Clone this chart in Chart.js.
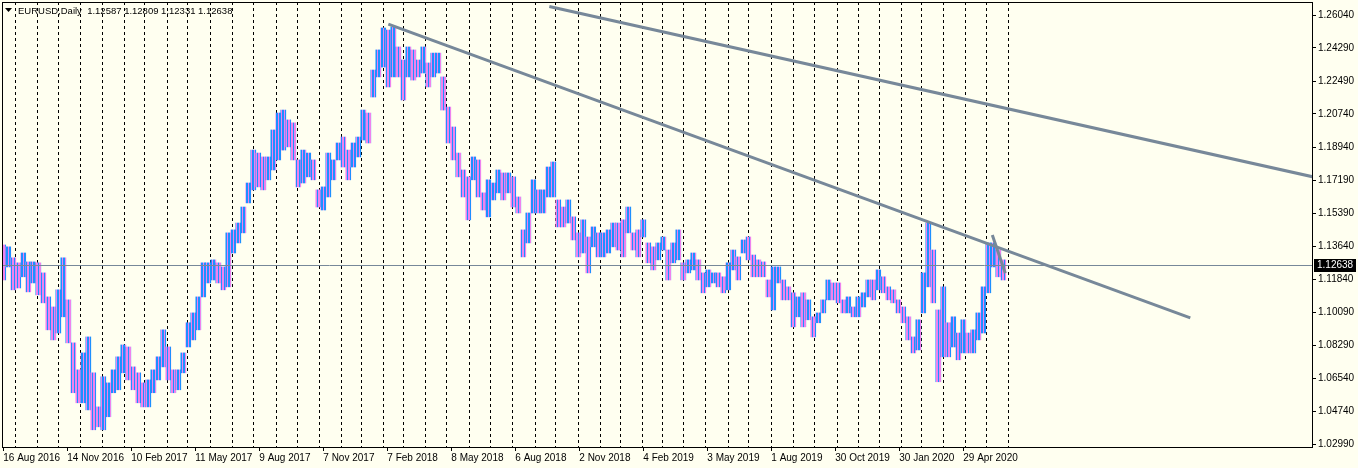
<!DOCTYPE html>
<html>
<head>
<meta charset="utf-8">
<script src="https://cdn.jsdelivr.net/npm/chart.js@4.4.1/dist/chart.umd.min.js"></script>
<style>
  html, body { margin: 0; padding: 0; background: #FFFFF0; }
  canvas { display: block; }
</style>
</head>
<body>
<canvas id="priceChart" width="1358" height="468"></canvas>
<script>
// EURUSD daily, drawn as weekly high/low ranges (x = trading day index from 16 Aug 2016)
const symbolTitle = "EURUSD,Daily";
const lastQuote = [1.12587, 1.12809, 1.12331, 1.12638]; // open, high, low, close
const startDate = "2016-08-16";

const dateLabels = ["16 Aug 2016", "14 Nov 2016", "10 Feb 2017", "11 May 2017", "9 Aug 2017", "7 Nov 2017",
  "7 Feb 2018", "8 May 2018", "6 Aug 2018", "2 Nov 2018", "4 Feb 2019", "3 May 2019", "1 Aug 2019",
  "30 Oct 2019", "30 Jan 2020", "29 Apr 2020"];
const dateLabelDays = [0, 64, 128, 192, 256, 320, 384, 448, 512, 576, 640, 704, 768, 832, 896, 960];

const priceTicks = [1.0299, 1.0474, 1.0654, 1.0829, 1.1009, 1.1184, 1.1364, 1.1539, 1.1719,
  1.1894, 1.2074, 1.2249, 1.2429, 1.2604];

const weeklyHigh = [
  1.1370, 1.1360, 1.1301, 1.1274, 1.1327, 1.1279, 1.1279, 1.1274, 1.1220, 1.1091,
  1.1037, 1.1129, 1.1301, 1.1075, 1.0844, 1.0699, 1.0790, 1.0876, 1.0683, 1.0500,
  1.0662, 1.0629, 1.0699, 1.0769, 1.0833, 1.0822, 1.0715, 1.0683, 1.0629, 1.0645,
  1.0699, 1.0769, 1.0914, 1.0822, 1.0699, 1.0699, 1.0790, 1.0952, 1.1005, 1.1091,
  1.1274, 1.1274, 1.1290, 1.1274, 1.1252, 1.1435, 1.1451, 1.1488, 1.1574, 1.1703,
  1.1880, 1.1864, 1.1843, 1.1843, 1.1988, 1.2079, 1.2095, 1.2042, 1.2026, 1.1827,
  1.1880, 1.1864, 1.1827, 1.1666, 1.1682, 1.1864, 1.1827, 1.1918, 1.1950, 1.1880,
  1.1918, 1.1950, 1.2095, 1.2079, 1.2310, 1.2418, 1.2536, 1.2525, 1.2541, 1.2434,
  1.2364, 1.2434, 1.2418, 1.2364, 1.2434, 1.2348, 1.2401, 1.2401, 1.2273, 1.2111,
  1.2004, 1.1864, 1.1773, 1.1736, 1.1843, 1.1827, 1.1650, 1.1720, 1.1703, 1.1773,
  1.1757, 1.1757, 1.1736, 1.1628, 1.1451, 1.1542, 1.1720, 1.1666, 1.1666, 1.1789,
  1.1816, 1.1612, 1.1574, 1.1612, 1.1521, 1.1435, 1.1505, 1.1413, 1.1467, 1.1435,
  1.1435, 1.1451, 1.1488, 1.1488, 1.1505, 1.1574, 1.1435, 1.1451, 1.1505, 1.1381,
  1.1360, 1.1381, 1.1413, 1.1343, 1.1381, 1.1451, 1.1274, 1.1290, 1.1327, 1.1290,
  1.1220, 1.1236, 1.1220, 1.1220, 1.1199, 1.1274, 1.1343, 1.1306, 1.1397, 1.1413,
  1.1316, 1.1290, 1.1279, 1.1182, 1.1252, 1.1252, 1.1182, 1.1145, 1.1113, 1.1091,
  1.1113, 1.1075, 1.0984, 1.1005, 1.1075, 1.1182, 1.1166, 1.1166, 1.1075, 1.1091,
  1.1037, 1.1091, 1.1113, 1.1182, 1.1182, 1.1236, 1.1199, 1.1145, 1.1129, 1.1075,
  1.1037, 1.0984, 1.0876, 1.0968, 1.1220, 1.1488, 1.1343, 1.1021, 1.1145, 1.0952,
  1.0984, 1.0897, 1.0968, 1.0897, 1.0914, 1.1005, 1.1145, 1.1381, 1.1381, 1.1343,
  1.1290
];
const weeklyLow = [
  1.1182, 1.1252, 1.1129, 1.1139, 1.1199, 1.1118, 1.1166, 1.1102, 1.1059, 1.0914,
  1.0860, 1.0897, 1.0984, 1.0844, 1.0576, 1.0522, 1.0522, 1.0484, 1.0377, 1.0393,
  1.0377, 1.0447, 1.0576, 1.0592, 1.0683, 1.0645, 1.0592, 1.0522, 1.0500, 1.0500,
  1.0576, 1.0645, 1.0715, 1.0645, 1.0576, 1.0592, 1.0683, 1.0822, 1.0860, 1.0914,
  1.1091, 1.1166, 1.1182, 1.1166, 1.1129, 1.1145, 1.1327, 1.1381, 1.1435, 1.1596,
  1.1666, 1.1682, 1.1666, 1.1720, 1.1773, 1.1827, 1.1880, 1.1897, 1.1827, 1.1682,
  1.1703, 1.1736, 1.1720, 1.1574, 1.1558, 1.1628, 1.1720, 1.1827, 1.1789, 1.1720,
  1.1789, 1.1843, 1.1934, 1.1918, 1.2165, 1.2273, 1.2326, 1.2219, 1.2273, 1.2273,
  1.2149, 1.2273, 1.2256, 1.2273, 1.2294, 1.2219, 1.2273, 1.2294, 1.2095, 1.1918,
  1.1827, 1.1736, 1.1628, 1.1505, 1.1720, 1.1628, 1.1558, 1.1521, 1.1612, 1.1650,
  1.1612, 1.1650, 1.1574, 1.1542, 1.1306, 1.1381, 1.1542, 1.1542, 1.1542, 1.1628,
  1.1628, 1.1467, 1.1467, 1.1488, 1.1397, 1.1306, 1.1327, 1.1220, 1.1360, 1.1306,
  1.1306, 1.1327, 1.1360, 1.1343, 1.1306, 1.1435, 1.1343, 1.1306, 1.1413, 1.1274,
  1.1236, 1.1290, 1.1343, 1.1182, 1.1274, 1.1290, 1.1182, 1.1220, 1.1236, 1.1182,
  1.1113, 1.1145, 1.1166, 1.1145, 1.1113, 1.1129, 1.1236, 1.1182, 1.1327, 1.1290,
  1.1199, 1.1199, 1.1199, 1.1091, 1.1021, 1.1166, 1.1075, 1.1075, 1.0930, 1.0984,
  1.0930, 1.0968, 1.0876, 1.0952, 1.1005, 1.1075, 1.1075, 1.1059, 1.1005, 1.1005,
  1.0984, 1.0984, 1.1037, 1.1091, 1.1075, 1.1129, 1.1113, 1.1075, 1.1059, 1.1005,
  1.0952, 1.0860, 1.0790, 1.0806, 1.1005, 1.1145, 1.1059, 1.0635, 1.0769, 1.0769,
  1.0822, 1.0753, 1.0790, 1.0790, 1.0790, 1.0860, 1.0897, 1.1113, 1.1252, 1.1199,
  1.1182
];

// trendlines: [day index, price]
const trendUpper = [[546, 1.2651], [1309, 1.1737]];
const trendLower = [[385, 1.2557], [1187, 1.0978]];
const trendShort = [[989, 1.1424], [1002, 1.1218]];

const DAYS_PER_WEEK = 5;
const UP_COLOR = "#1E90FF";
const DOWN_COLOR = "#EE82EE";
const LINE_COLOR = "#778899";
const FONT = { family: "'Liberation Sans', Arial, sans-serif", size: 10 };

// trading calendar (weekdays, broker closed on 25 Dec and 1 Jan)
function tradingDates(count) {
  const out = [];
  const d = new Date(startDate + "T00:00:00Z");
  while (out.length < count) {
    const wd = d.getUTCDay();
    const m = d.getUTCMonth(), day = d.getUTCDate();
    const holiday = (m === 11 && day === 25) || (m === 0 && day === 1);
    if (wd !== 0 && wd !== 6 && !holiday) out.push(new Date(d));
    d.setUTCDate(d.getUTCDate() + 1);
  }
  return out;
}

const lastDay = (weeklyHigh.length - 1) * DAYS_PER_WEEK + 5;
const calendar = tradingDates(lastDay + 1);
const monthStarts = [];
for (let i = 1; i < calendar.length; i++) {
  if (calendar[i].getUTCMonth() !== calendar[i - 1].getUTCMonth()) monthStarts.push(i);
}

// striped fills mimic the run of thin daily bars inside each week
function stripes(main, other) {
  const c = document.createElement("canvas");
  c.width = 3; c.height = 1;
  const g = c.getContext("2d");
  g.fillStyle = main; g.fillRect(0, 0, 3, 1);
  g.fillStyle = other; g.fillRect(2, 0, 1, 1);
  return g.createPattern(c, "repeat");
}
const upFill = stripes(UP_COLOR, DOWN_COLOR);
const downFill = stripes(DOWN_COLOR, UP_COLOR);

const bars = weeklyHigh.map((h, i) => ({ x: i * DAYS_PER_WEEK, y: [weeklyLow[i], h] }));
const barColors = weeklyHigh.map((h, i) => {
  if (i === 0) return downFill;
  const mid = (h + weeklyLow[i]) / 2;
  const prev = (weeklyHigh[i - 1] + weeklyLow[i - 1]) / 2;
  return mid >= prev ? upFill : downFill;
});

function trendDataset(points) {
  return {
    type: "line",
    data: points.map(p => ({ x: p[0], y: p[1] })),
    borderColor: LINE_COLOR,
    borderWidth: 3,
    pointRadius: 0,
    tension: 0,
    order: 0,
  };
}

const terminalPlugin = {
  id: "terminal",
  beforeDatasetsDraw(chart) {
    const { ctx, chartArea: a, scales: { x } } = chart;
    ctx.save();
    ctx.strokeStyle = "#000";
    ctx.lineWidth = 1;
    ctx.setLineDash([3, 3]);
    monthStarts.forEach(d => {
      const px = Math.round(x.getPixelForValue(d)) + 0.5;
      ctx.beginPath();
      ctx.moveTo(px, a.top);
      ctx.lineTo(px, a.bottom);
      ctx.stroke();
    });
    ctx.restore();
  },
  afterDraw(chart) {
    const { ctx, chartArea: a, scales: { y } } = chart;
    ctx.save();
    // bid line
    const py = Math.round(y.getPixelForValue(lastQuote[3])) + 0.5;
    ctx.strokeStyle = LINE_COLOR;
    ctx.lineWidth = 1;
    ctx.beginPath();
    ctx.moveTo(a.left, py);
    ctx.lineTo(a.right, py);
    ctx.stroke();
    // frame
    ctx.strokeStyle = "#000";
    ctx.strokeRect(a.left + 0.5, a.top + 0.5, a.right - a.left, a.bottom - a.top);
    // price box on the axis
    ctx.fillStyle = "#000";
    ctx.fillRect(a.right + 2, py - 6.5, 42, 13);
    ctx.fillStyle = "#fff";
    ctx.font = `${FONT.size}px ${FONT.family}`;
    ctx.textBaseline = "middle";
    ctx.textAlign = "left";
    ctx.fillText(lastQuote[3].toFixed(5), a.right + 5, py);
    // header
    ctx.fillStyle = "#000";
    ctx.beginPath();
    ctx.moveTo(5, 8);
    ctx.lineTo(12, 8);
    ctx.lineTo(8.5, 12);
    ctx.closePath();
    ctx.fill();
    ctx.font = `9.5px ${FONT.family}`;
    ctx.fillText(symbolTitle + "  " + lastQuote.map(v => v.toFixed(5)).join(" "), 18, 11);
    ctx.restore();
  },
};

new Chart(document.getElementById("priceChart"), {
  type: "bar",
  data: {
    datasets: [
      trendDataset(trendUpper),
      trendDataset(trendLower),
      trendDataset(trendShort),
      {
        type: "bar",
        data: bars,
        backgroundColor: barColors,
        borderWidth: 0,
        barThickness: 5,
        grouped: false,
        order: 1,
      },
    ],
  },
  options: {
    responsive: false,
    animation: false,
    events: [],
    layout: { padding: { left: 2, top: 2, right: 0, bottom: 0 } },
    plugins: { legend: { display: false }, tooltip: { enabled: false } },
    scales: {
      x: {
        type: "linear",
        min: -1.3,
        max: 1308.7,
        offset: false,
        afterBuildTicks: s => { s.ticks = dateLabelDays.map(v => ({ value: v })); },
        afterFit: s => { s.height = 21; s.paddingLeft = 0; s.paddingRight = 0; },
        ticks: {
          align: "start",
          autoSkip: false,
          maxRotation: 0,
          padding: 1,
          color: "#000",
          font: FONT,
          callback: (v, i) => dateLabels[i],
        },
        grid: { drawOnChartArea: false, drawTicks: true, tickLength: 4, color: "#000", offset: false },
        border: { color: "#000" },
      },
      y: {
        position: "right",
        min: 1.02845,
        max: 1.26755,
        afterBuildTicks: s => { s.ticks = priceTicks.map(v => ({ value: v })); },
        afterFit: s => { s.width = 46; s.paddingTop = 0; s.paddingBottom = 0; },
        ticks: {
          padding: 2,
          color: "#000",
          font: FONT,
          callback: v => v.toFixed(5),
        },
        grid: { drawOnChartArea: false, drawTicks: true, tickLength: 4, color: "#000" },
        border: { color: "#000" },
      },
    },
  },
  plugins: [terminalPlugin],
});
</script>
</body>
</html>
